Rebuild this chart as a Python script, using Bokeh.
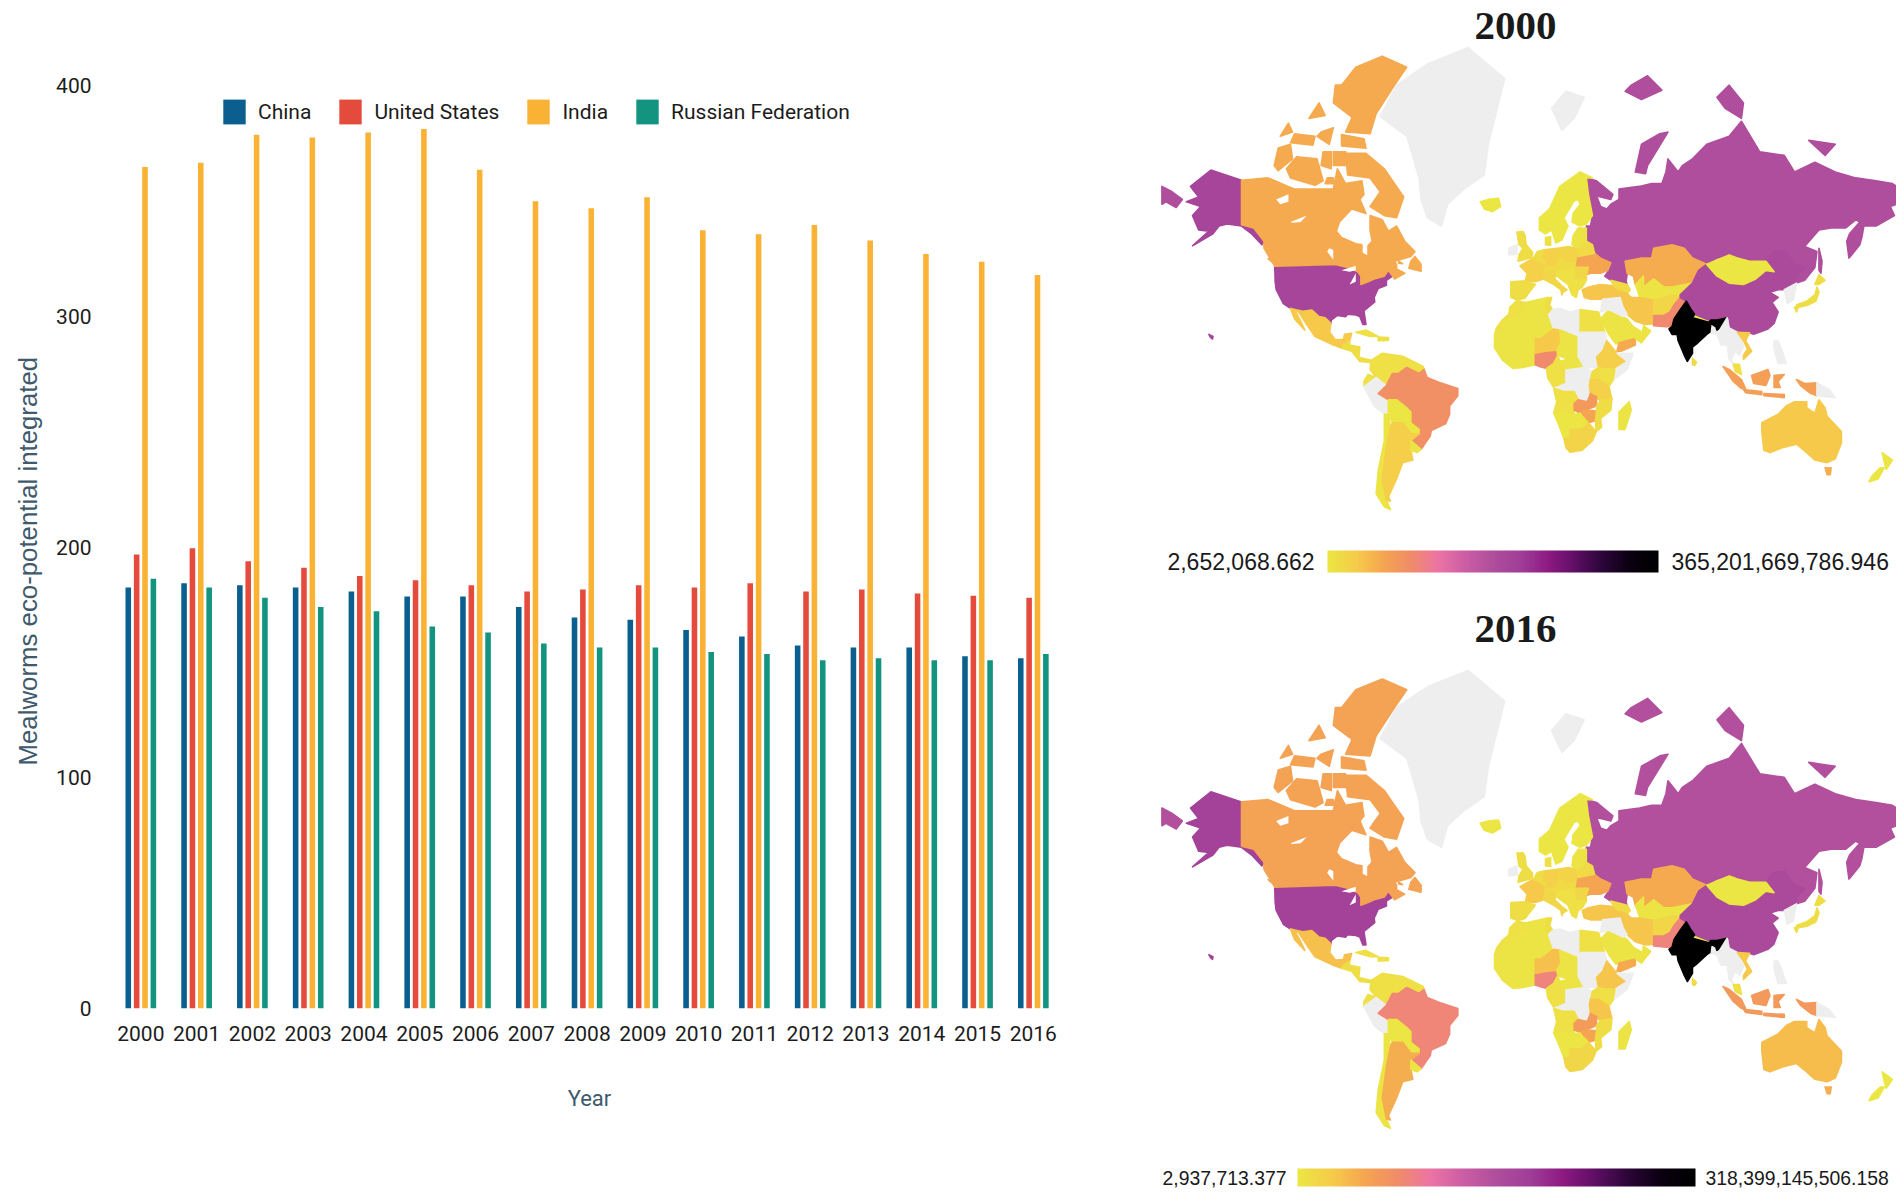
import numpy as np
from bokeh.embed import file_html
from bokeh.resources import INLINE
from bokeh.plotting import figure
from bokeh.layouts import row, column
from bokeh.models import (ColumnDataSource, Range1d, FixedTicker, Label, LinearColorMapper,
                          ColorBar, Title)
from bokeh.transform import dodge

YEARS = list(range(2000, 2017))
CHINA = [182.5, 184.3, 183.4, 182.5, 180.7, 178.6, 178.6, 174, 169.4, 168.5, 164, 161.2, 157.3, 156.4, 156.4, 152.7, 151.8]
US = [196.8, 199.5, 193.8, 191, 187.4, 185.6, 183.4, 180.7, 181.6, 183.4, 182.5, 184.3, 180.7, 181.6, 179.8, 178.9, 178]
INDIA = [364.7, 366.5, 378.7, 377.5, 379.6, 381.1, 363.5, 349.8, 346.8, 351.6, 337.3, 335.5, 339.5, 332.8, 327, 323.6, 317.9]
RUSSIA = [186.2, 182.5, 178, 174, 172.2, 165.5, 163, 158.2, 156.4, 156.4, 154.5, 153.6, 150.9, 151.8, 150.9, 150.9, 153.6]
SERIES = [("China", CHINA, "#0B5F8F"), ("United States", US, "#E54B3C"),
          ("India", INDIA, "#F9B234"), ("Russian Federation", RUSSIA, "#129480")]

PALETTE_STOPS = ["#EBE643", "#F6CC4A", "#F5A650", "#F08C68", "#EC74A5", "#CC5EA4", "#AF4E9C",
                 "#A03E98", "#8E1A82", "#5E0E64", "#2A0537", "#0A0010", "#000000"]

# country outlines: lon, lat rings
SHAPES = {
 "Russia": [[(28,70),(33,69.5),(41,67),(40,66),(35,66.5),(33,66.7),(35,64.5),(38,64),(40,65),(44,66),(44,68),(54,68.5),(60,69),(65,69),(67,71),(68,73),(73,71),(75,72),(80,73),(87,75),(98,76),(104,77.7),(113,74),(125,73.5),(130,71),(140,72.5),(150,71),(160,70),(170,69.5),(178,69),(180,68.5),(180,65),(177,64.5),(179,62.5),(170,60),(164,60),(163,57),(162,55),(158,52),(156.7,51),(155.6,56),(157,58),(162,61),(160,61.5),(155,59.5),(148,59.5),(142,59),(135,54.5),(141,53),(140,48),(135,43.5),(131,42.5),(131,45),(135,48),(130,49),(127,50),(125,53.5),(120,53),(116,50),(108,50),(102,51),(98,52),(92,51),(87,49),(80,51),(76,54),(70,55),(61,54),(60,51),(55,51),(47,50),(48,46),(47.5,43),(48,42),(40,43.5),(37,45),(39,47),(40,49.5),(35,51),(32,52.5),(31,55),(28,56),(28,60),(30,60),(31,62.5),(29,67)],
            [(52,71),(57,70.7),(58,72),(68,76.5),(64,76.3),(55,75)],
            [(96,79),(104,78),(105,79.5),(98,81),(92,80)],
            [(47,80.5),(55,79.8),(65,80.6),(58,81.7),(50,81)],
            [(137,75.5),(150,75),(145,73.5)],
            [(142,54),(143.5,50),(143,46),(142,47),(142,52)],
            [(-180,68.5),(-175,67.5),(-170,66),(-173,64.3),(-178,65.5),(-180,65)]],
 "USA": [[(-124.7,48.4),(-95,49),(-89,48),(-84,46.5),(-82.5,45),(-82.5,42),(-79,43),(-76,44),(-71,45),(-69,47),(-67,45),(-70,43.5),(-70,41.7),(-74,40.5),(-76,37),(-75.7,35.2),(-81,31.5),(-80,25.5),(-81.5,25.5),(-83,29),(-85,29.7),(-89,30),(-90,29),(-94,29.5),(-97,27.5),(-97.2,26),(-100,28.5),(-103,29),(-106.5,31.8),(-111,31.3),(-117,32.5),(-120.5,34.5),(-124,40),(-124.5,43)],
         [(-141,69.6),(-156,71.3),(-166,68.5),(-162,66.5),(-168,65.5),(-161,64.5),(-165,62.5),(-162,59),(-157,58.7),(-165,54.7),(-155,58),(-152,60),(-148,60.5),(-141,60),(-136,58),(-131,55),(-130,56),(-135,59.5),(-141,60.3)],
         [(-157,21),(-155,20),(-155.2,18.8),(-156.2,19.6)]],
 "Canada": [[(-141,69.6),(-128,70),(-115,68),(-108,68),(-96,68),(-94,71.5),(-90,69),(-82,69.5),(-81,67),(-85,65),(-87,64),(-93,61),(-94.5,58.7),(-92,57),(-85,55.3),(-82,55),(-82,52.5),(-79,51.5),(-79,54.7),(-77,56),(-78,59),(-78,62.5),(-72,61.5),(-69,58.7),(-65,60),(-61,56),(-56,53),(-58,51.5),(-66,50),(-65,49),(-65,47.5),(-61,46),(-66,44),(-67,45),(-69,47),(-71,45),(-76,44),(-79,43),(-82.5,42),(-82.5,45),(-84,46.5),(-89,48),(-95,49),(-124.7,48.4),(-130,54),(-130,56),(-135,59.5),(-141,60.3)],
            [(-61.5,66.5),(-65,62),(-71,62.5),(-78,64.5),(-73,67.5),(-78,70),(-89,70.5),(-90,73.8),(-80,73.8),(-71,71.5),(-67,69.5)],
            [(-117,70),(-105,68.7),(-101,69.5),(-104,73),(-114,73.3),(-119,71.5)],
            [(-125,72),(-123,71.2),(-116,73),(-117,75),(-123,74.5)],
            [(-90,76.5),(-78,76.3),(-75,78.5),(-66,81),(-60,82.3),(-72,83),(-85,82.3),(-92,81),(-87,78)],
            [(-92,74.8),(-80,74.5),(-81,75.7),(-92,76.2)],
            [(-96,79.5),(-88,78.3),(-88,81),(-95,81)],
            [(-117,75.2),(-106,74.9),(-105,76),(-115,76.3)],
            [(-102,72),(-97,71.5),(-97,74),(-101,74)],
            [(-96,72),(-90,72),(-90,74),(-96,74)],
            [(-100,69),(-95,69),(-96,70),(-99,70)],
            [(-104,76),(-98,75),(-96,77),(-102,76.5)],
            [(-122,76),(-116,76.5),(-118,77.5)],
            [(-108,78),(-100,78.3),(-103,79.5)],
            [(-87,64),(-80,63),(-83,66),(-86,66)],
            [(-59,47.7),(-53,46.7),(-53,49),(-56,51.5),(-58,50)],
            [(-128,50.8),(-123.5,48.4),(-125,50)],
            [(-64,50),(-62,49.2),(-64,49.4)]],
 "Greenland": [[(-73,78.2),(-60,76),(-54,70),(-53,66),(-50,62),(-43,60),(-40,65),(-32,68),(-22,70.5),(-20,75),(-12,81.5),(-30,83.5),(-50,82.5),(-65,81)],
               [(11,79),(16,76.7),(22,78),(27,80),(18,80.5)]],
 "Iceland": [[(-24,65.5),(-22,64),(-18,63.4),(-14,64.5),(-15,66.2),(-20,66)]],
 "Norway": [[(5,59),(8,58),(11,59),(12.5,61),(14,65),(18,68.5),(25,69),(28,70),(31,70),(25,71),(15,68.5),(10,64),(5,62)]],
 "Sweden": [[(11,59),(13,55.5),(16,56.3),(19,60),(17,62),(22,65.7),(24,66),(20,69),(18,68.5),(14,65),(12.5,61)]],
 "Finland": [[(21,61),(25,60),(28,60.5),(31,62.5),(29,67),(28,70),(25,69),(20,69),(24,66),(25,65),(21.5,63)]],
 "Denmark": [[(8,55),(10.5,54.8),(10.5,57.3),(8,57)]],
 "UK": [[(-5.5,50),(1.3,51.2),(1.7,52.7),(-1.5,55),(-2,57.5),(-3,58.6),(-6,58.5),(-5,55),(-3,54),(-5,52)]],
 "Ireland": [[(-10,52),(-6,52.2),(-6,55),(-10,54)]],
 "France": [[(-4.5,48.5),(2,51),(8,49),(7,44),(3,43),(-1.8,43.3),(-1,46)]],
 "Spain": [[(-9,43),(-1.8,43.3),(3,42),(0,39),(-2,36.8),(-5.5,36),(-9,37)]],
 "Germany": [[(6,51),(7,53.5),(14,54),(15,51),(13,48),(8,48)]],
 "Poland": [[(14,54),(19,54.5),(23.5,54),(24,50.5),(19,49.4),(15,51)]],
 "Benelux": [[(2,51),(4,53),(7,53.5),(6,51),(8,49)]],
 "CentralEurope": [[(8,48),(13,48),(15,51),(19,49.4),(24,50.5),(23,48),(22,48),(13.5,46.5),(7.5,46)]],
 "Italy": [[(7,44),(7.5,46),(13.5,46.5),(12.5,44),(16,41.5),(18.5,40),(16.5,39),(16,38),(15.5,40),(12,42)]],
 "Ukraine": [[(24,51.5),(32,52.5),(35,51),(40,49.5),(38.5,47),(35,46),(33,46),(30,46),(28,45.5),(29,48),(23,48)]],
 "Belarus": [[(24,51.5),(23.5,54),(28,56),(31,55),(32,52.5)]],
 "Baltics": [[(21,55),(21.5,57.5),(24,59.5),(28,59.5),(28,56),(23.5,54)]],
 "Romania": [[(22,48),(29,48),(28,45.5),(28,43.5),(22.5,44)]],
 "Balkans": [[(13.5,46.5),(22,48),(22.5,44),(28,43.5),(26,41),(24,40),(23,37),(21,38),(19,42),(13.5,45)]],
 "Turkey": [[(26,40),(29,41),(35,42),(41.5,41.5),(44.5,39.5),(44.5,37),(36,36.3),(30,36.3),(27,37)]],
 "Caucasus": [[(41.5,41.5),(40,43.5),(48,42),(49.5,40),(48,38.5),(44.5,39.5)]],
 "Kazakhstan": [[(47,50),(55,51),(60,51),(61,54),(70,55),(76,54),(80,51),(87,49),(83,47),(80,42.5),(70,41),(66,41),(61,44),(56,41),(56,45),(52,42),(51,45),(48,46)]],
 "CentralAsia": [[(52,42),(56,45),(56,41),(61,44),(66,41),(70,41),(80,42.5),(74,38),(70,37),(66,37),(61,36),(54,37.5),(53,40)]],
 "Iran": [[(44.5,39.5),(48,38.5),(50,37),(54,37),(61,36),(61,31),(63,26),(57,25.5),(52,27),(48,30),(46,33),(44.5,37)]],
 "Afghanistan": [[(61,36),(66,37),(71,38),(74,37),(71,34),(69,31),(66,29.5),(61,29.5),(61,31)]],
 "Pakistan": [[(61,29.5),(66,29.5),(69,31),(71,34),(74,37),(77,35.5),(74,32),(71,28),(70,24.5),(67,24.5),(61,25)]],
 "Nepal": [[(80,28.5),(81,30),(88,27.5),(88,26.5)]],
 "Bangladesh": [[(88.5,22),(89,26),(92,25),(92,21)]],
 "China": [[(74,37),(74,38),(80,42.5),(83,47),(87,49),(92,45),(98,42.5),(105,42),(111,44),(116,47),(120,46.5),(116,50),(120,53),(125,53.5),(130,49),(135,48),(131,45),(131,42.5),(125,40),(122,40),(118,39),(122,37),(119,35),(122,31),(120,26),(117,23.5),(110,21),(108,21.7),(102,22),(98,24),(98,28),(97,28.5),(92,27.5),(88,27.5),(81,30),(79,32.5),(77,35.5)]],
 "India": [[(77,35.5),(79,32.5),(81,30),(80,28.5),(88,26.5),(89,27.5),(92,27.5),(97,28.5),(94,24),(92,23),(91.5,24.5),(89,26),(88.5,22),(87,21),(82,16.5),(80,15),(80,12),(77.5,8),(76,11),(73,18),(72.5,21),(70,21),(68.5,23.5),(70,24.5),(71,28),(74,32)]],
 "Mongolia": [[(87,49),(98,52),(102,51),(108,50),(116,50),(120,46.5),(116,47),(111,44),(105,42),(98,42.5),(92,45)]],
 "Korea": [[(125,40),(131,42.5),(129.5,36),(126.5,34.5)]],
 "Japan": [[(131,34),(136,35.5),(140,38),(141,41),(142,39),(140.5,35.5),(136,33.7),(132,33)],
           [(140,42),(142,45.5),(145,43.5),(142,42)], [(130,33),(132,33.5),(131,31)]],
 "Indochina": [[(92,21),(94,24),(97,28.5),(98,24),(102,22),(104,19),(105,15),(103,11),(101,13),(99,9),(100,7),(98,9),(97,16),(94,16)]],
 "Vietnam": [[(102,22),(108,21.7),(106,18),(109,13),(105,9),(105,11),(107,14),(105,18)]],
 "Malaysia": [[(100,6.5),(103,6.5),(104,1.5),(101,3)]],
 "Philippines": [[(120,18),(122,18),(124,13),(126,7),(122,7),(120,14)]],
 "Indonesia": [[(95,5.5),(98,4),(104,-1),(106,-5.5),(104,-5.5),(100,-2)],
               [(105,-6),(114,-7),(114,-8.5),(106,-7.5)], [(109,1),(117,4),(118,1),(116,-4),(110,-3)],
               [(120,1),(125,1.5),(122,-2),(123,-5),(120,-5)], [(131,-1),(135,-3),(141,-2.6),(141,-9),(138,-8),(133,-4)],
               [(115,-8),(125,-8.5),(125,-10),(115,-9)]],
 "PNG": [[(141,-2.6),(147,-6),(150,-10),(141,-9)]],
 "SriLanka": [[(80,9.5),(82,7.5),(81,6),(80,6.5)]],
 "Australia": [[(114,-22),(122,-18),(126,-14),(130,-12),(136,-12),(136,-15),(140,-17.5),(142,-11),(145,-15),(146,-19),(153,-26),(153,-31),(150,-37.5),(146,-39),(140,-38),(136,-35),(131,-31.5),(124,-33),(118,-35),(115,-34),(114,-26)]],
 "Tasmania": [[(145,-41),(148,-41),(147.5,-43.5),(146,-43.5)]],
 "NewZealand": [[(166.5,-46),(171,-45),(174,-41),(172,-41),(168,-44)], [(173,-35),(178,-38),(175,-41.5),(174,-39)]],
 "Madagascar": [[(49,-12),(50,-16),(47,-25),(44,-25),(44,-17)]],
 "Morocco": [[(-6,35.8),(-2,35),(-1.2,32),(-8.7,27.7),(-13,25),(-13,21),(-17,21),(-16,24),(-13,27.7),(-10,30),(-9.5,33)]],
 "Algeria": [[(-2,35),(9,37),(8,33),(9.5,30),(12,23.5),(6,19),(3,19),(-4.8,25),(-8.7,27.7),(-1.2,32)]],
 "Tunisia": [[(9,37),(11,37),(10,34),(11.5,32),(9.5,30),(8,33)]],
 "Libya": [[(11.5,32),(15,32.5),(20,31),(25,32),(25,20),(24,19.5),(15,23),(12,23.5),(9.5,30)]],
 "Egypt": [[(25,32),(34,31),(35,28),(37,22),(25,22)]],
 "Saudi": [[(35,28),(39,32),(46,29),(48,28),(51,24.5),(55.5,22),(52,19),(44,17),(42.5,16.5),(39,21)]],
 "Yemen": [[(43,13),(44,17),(52,19),(52,16),(45,13)]],
 "Oman": [[(55.5,22),(56,25),(59.5,22.5),(55,17),(52,19)]],
 "Iraq": [[(36,36.3),(44.5,37),(46,33),(48,30),(46,29),(39,32),(35,31)]],
 "WestAfrica": [[(-17,21),(-13,21),(-13,25),(-8.7,27.7),(-4.8,25),(3,19),(3,6.3),(-3,5),(-8,4.5),(-13,8.5),(-17,14.5)]],
 "Nigeria": [[(3,6.3),(3,12),(8,13),(13.5,13.5),(14,11),(12,7),(8.5,4.5),(5,5.5)]],
 "Niger": [[(3,12),(3,19),(6,19),(12,23.5),(15,23),(15.5,17),(13.5,13.5),(8,13)]],
 "Chad": [[(15,23),(24,19.5),(24,10.5),(19,9),(14,11),(13.5,13.5),(15.5,17)]],
 "Cameroon": [[(8.5,4.5),(12,7),(14,11),(15,8),(18,3.7),(18,-3),(12,-5),(9,0)]],
 "CAR": [[(15,8),(19,9),(24,10.5),(27,5),(18,3.7)]],
 "Sudan": [[(24,19.5),(25,22),(37,22),(38,18),(36,13),(33,10),(34,5),(27,5),(24,10.5)]],
 "Ethiopia": [[(36,13),(38,18),(43,12),(48,8),(42,4),(36,4.5),(34,5),(33,10)]],
 "Somalia": [[(43,12),(51,12),(48,4),(41,-1.5),(42,4),(48,8)]],
 "DRC": [[(18,3.7),(27,5),(31,3),(29.5,-4),(30,-8),(28.5,-12),(24,-11),(22,-7),(17,-7),(12,-5.5),(18,-3)]],
 "Kenya": [[(34,5),(36,4.5),(42,4),(41,-1.5),(39,-4.5),(34,-1)]],
 "Uganda": [[(31,3),(34,5),(34,-1),(30,-1)]],
 "Tanzania": [[(30,-1),(34,-1),(39,-4.5),(40.5,-10.5),(35,-11.5),(30,-8),(29.5,-4)]],
 "Angola": [[(12,-5.5),(17,-7),(22,-7),(24,-11),(22,-13),(22,-18),(12,-17.5),(13.5,-12)]],
 "Zambia": [[(22,-13),(24,-11),(28.5,-12),(30,-8),(33,-9.5),(33,-14),(28,-16),(25,-17.5),(22,-16)]],
 "Zimbabwe": [[(25,-17.5),(28,-16),(33,-16.5),(32.5,-21),(29,-22),(26,-19)]],
 "Mozambique": [[(33,-14),(35,-11.5),(40.5,-10.5),(40,-16),(35,-20),(35.5,-24),(32.8,-26),(32.5,-21),(33,-16.5)]],
 "Namibia": [[(12,-17.5),(22,-18),(25,-17.5),(26,-19),(29,-22),(26,-25),(20,-25),(20,-29),(17,-29),(14.5,-23)]],
 "SouthAfrica": [[(17,-29),(20,-29),(20,-25),(26,-25),(29,-22),(32.8,-26),(31,-30),(26,-34),(20,-34.8),(18,-33)]],
 "Mexico": [[(-117,32.5),(-111,31.3),(-106.5,31.8),(-103,29),(-100,28.5),(-97.2,26),(-97.8,22),(-95,18.5),(-91,18.7),(-90.5,21),(-87,21.5),(-88,18),(-91,16),(-92,14.5),(-96,16),(-105,20),(-109,25.5),(-113,31),(-114.7,31.5)],
            [(-117,32.5),(-115,28),(-110,23),(-112,27),(-114.7,31.5)]],
 "CentralAmerica": [[(-92,14.5),(-91,16),(-88,18),(-88,16),(-83,15),(-83.5,10),(-77.5,8.5),(-78,7.5),(-83,8),(-87,13)]],
 "Cuba": [[(-85,22),(-80,23),(-74,20),(-78,20)], [(-74,19.8),(-69,19.5),(-69,18.2),(-74,18)]],
 "Colombia": [[(-77.5,8.5),(-72,12),(-62,10.5),(-52,5.5),(-51.5,4),(-54,2),(-60,5),(-64,2),(-67,2),(-70,-4),(-75,0),(-79,1.5),(-81,-2),(-81,-4.5),(-79,-3),(-75,0),(-78,4)]],
 "Peru": [[(-81,-4.5),(-79,-3),(-75,0),(-70,-4),(-74,-8),(-69,-11),(-69,-17),(-71,-18),(-76,-14)]],
 "Brazil": [[(-74,-8),(-70,-4),(-67,2),(-64,2),(-60,5),(-54,2),(-51.5,4),(-50,0),(-44,-2.5),(-35,-5.5),(-35,-9),(-39,-14),(-39,-18),(-41,-22.5),(-48,-25.5),(-48.5,-28),(-53,-33.7),(-57.5,-30),(-54,-26),(-54,-25),(-58,-22),(-58,-17),(-60,-15),(-65,-11),(-69,-11)]],
 "Bolivia": [[(-69,-11),(-65,-11),(-60,-15),(-58,-17),(-58,-22),(-54,-25),(-54,-27),(-58,-27),(-62,-22),(-67,-22),(-69,-18)]],
 "Chile": [[(-69,-18),(-71,-18),(-71,-30),(-74,-42),(-75,-50),(-71,-54),(-68,-54.8),(-70,-52),(-72,-45),(-70,-33),(-68,-24)]],
 "Argentina": [[(-67,-22),(-62,-22),(-58,-27),(-54,-27),(-58,-30),(-58,-34),(-57,-38),(-62,-39),(-65,-45),(-69,-51),(-68,-52.3),(-70,-52),(-72,-45),(-70,-33),(-68,-24)]],
 "Uruguay": [[(-58,-30),(-53,-33.7),(-55,-35),(-58,-34)]],
}
LAKES = [[(-124,66),(-118,67),(-118,65.5),(-122,65)], [(-117,61),(-109,62.5),(-112,61),(-116,60.8)],
         [(-99,53),(-96,50.5),(-96,53.5),(-98,54)], [(-92,47),(-85,48.5),(-85,47),(-88,46.5)],
         [(-88,42),(-85,46),(-85,43)]]

NAN = float("nan")
# position of each country on the colour scale (0 = low, 1 = high), nan = no data
LEVEL_2000 = {"Russia":.5,"USA":.55,"Canada":.16,"Greenland":NAN,"Iceland":.0,"Norway":.0,"Sweden":.0,"Finland":.0,
 "Denmark":.02,"UK":.03,"Ireland":NAN,"France":.07,"Spain":.03,"Germany":.07,"Poland":.06,"Benelux":.03,"CentralEurope":.04,"Italy":.05,
 "Ukraine":.17,"Belarus":.04,"Baltics":.01,"Romania":.05,"Balkans":.02,"Turkey":.1,"Caucasus":.04,"Kazakhstan":.155,"CentralAsia":.01,
 "Iran":.1,"Afghanistan":.05,"Pakistan":.26,"India":1.0,"Nepal":.01,"Bangladesh":NAN,"China":.52,"Mongolia":.0,"Korea":NAN,"Japan":.03,
 "Indochina":NAN,"Vietnam":.09,"Malaysia":.02,"Philippines":NAN,"Indonesia":.19,"PNG":NAN,"SriLanka":.04,"Australia":.09,"Tasmania":.15,
 "NewZealand":.0,"Madagascar":.01,"Morocco":.02,"Algeria":.01,"Tunisia":.03,"Libya":NAN,"Egypt":.02,"Saudi":.01,"Yemen":.16,"Oman":.01,
 "Iraq":NAN,"WestAfrica":.01,"Nigeria":.26,"Niger":.09,"Chad":.01,"Cameroon":.02,"CAR":.01,"Sudan":NAN,"Ethiopia":.08,"Somalia":NAN,
 "DRC":NAN,"Kenya":.02,"Uganda":.03,"Tanzania":.07,"Angola":.02,"Zambia":.21,"Zimbabwe":.17,"Mozambique":.03,"Namibia":.0,"SouthAfrica":.06,
 "Mexico":.09,"CentralAmerica":.03,"Cuba":.02,"Colombia":.02,"Peru":NAN,"Brazil":.24,"Bolivia":.0,"Chile":.01,"Argentina":.08,"Uruguay":.01}
LEVEL_2016 = dict(LEVEL_2000)
LEVEL_2016.update({"Russia":.49,"USA":.56,"Canada":.18,"Brazil":.27,"Argentina":.15,"Australia":.12,"Pakistan":.28,"Nigeria":.28,
 "Indonesia":.21,"Kazakhstan":.16,"Niger":.11,"Ethiopia":.1,"Zambia":.2,"Tanzania":.1,"France":.09,"SouthAfrica":.05,"Mexico":.11})

MAPS = [
 dict(title="2000", low="2,652,068.662", high="365,201,669,786.946", level=LEVEL_2000),
 dict(title="2016", low="2,937,713.377", high="318,399,145,506.158", level=LEVEL_2016),
]

# -------- bars --------
p = figure(width=1140, height=1192, output_backend="svg", toolbar_location=None,
           x_range=Range1d(1999.277, 2016.81), y_range=Range1d(0, 400),
           min_border_left=100, min_border_right=62, min_border_top=85, min_border_bottom=184,
           outline_line_color=None, background_fill_color="white", border_fill_color="white")
src = ColumnDataSource(dict(year=YEARS, **{name: vals for name, vals, _ in SERIES}))
for i, (name, vals, col) in enumerate(SERIES):
    p.vbar(x=dodge("year", -0.225 + 0.15 * i), top=name, width=0.1, bottom=0, source=src,
           fill_color=col, line_color=None, legend_label=name)
p.grid.visible = False
for ax in (p.xaxis[0], p.yaxis[0]):
    ax.axis_line_color = None
    ax.major_tick_line_color = None
    ax.minor_tick_line_color = None
    ax.major_label_text_font = "Roboto"
    ax.major_label_text_font_size = "21px"
    ax.major_label_text_color = "#1c1c1c"
p.xaxis[0].ticker = FixedTicker(ticks=YEARS)
p.yaxis[0].ticker = FixedTicker(ticks=[0, 100, 200, 300, 400])
p.xaxis[0].major_label_standoff = 11
p.yaxis[0].major_label_standoff = 3
p.xaxis[0].axis_label = "Year"
p.xaxis[0].axis_label_text_font_style = "normal"
p.xaxis[0].axis_label_text_color = "#3e5a6c"
p.xaxis[0].axis_label_text_font = "Roboto"
p.xaxis[0].axis_label_text_font_size = "22px"
p.xaxis[0].axis_label_standoff = 42
# the y title sits a little below the middle of the frame, so it is a side title with an offset
p.add_layout(Title(text="Mealworms eco-potential integrated", align="left", offset=243, standoff=23,
                   text_font="Liberation Sans", text_font_size="25.8px", text_font_style="normal",
                   text_color="#3e5a6c"), "left")
lg = p.legend[0]
lg.orientation = "horizontal"
lg.location = (120, 881)
lg.glyph_width = 28
lg.glyph_height = 31
lg.label_standoff = 10
lg.spacing = 25
lg.padding = 0
lg.margin = 0
lg.border_line_color = None
lg.background_fill_alpha = 0
lg.label_text_font = "Roboto"
lg.label_text_font_size = "21px"
lg.label_text_color = "#1c1c1c"

# -------- maps --------
palette = []
stops = np.array([[int(c[i:i+2], 16) for i in (1, 3, 5)] for c in PALETTE_STOPS], float)
for t in np.linspace(0, len(stops) - 1, 256):
    k = min(int(t), len(stops) - 2)
    rgb = stops[k] + (stops[k + 1] - stops[k]) * (t - k)
    palette.append("#%02x%02x%02x" % tuple(int(round(v)) for v in rgb))
mapper = LinearColorMapper(palette=palette, low=0, high=1, nan_color="#EEEEEE")


def mercator(lat):
    return np.log(np.tan(np.pi / 4 + np.radians(np.asarray(lat, float)) / 2))


def make_map(info, height, y0, y1, bar, low_x, high_x, label_y, fs, title_y):
    m = figure(width=756, height=height, output_backend="svg", toolbar_location=None,
               x_range=Range1d(-190.5, 180), y_range=Range1d(y0, y1),
               min_border=0, min_border_left=0, min_border_right=0, min_border_top=0, min_border_bottom=0,
               outline_line_color=None, x_axis_location=None, y_axis_location=None,
               background_fill_color="white", border_fill_color="white")
    m.grid.visible = False
    xs, ys, level = [], [], []
    for name, rings in SHAPES.items():
        for ring in rings:
            xs.append([pt[0] for pt in ring])
            ys.append(mercator([pt[1] for pt in ring]).tolist())
            level.append(info["level"][name])
    m.patches(xs="xs", ys="ys", source=ColumnDataSource(dict(xs=xs, ys=ys, level=level)),
              fill_color={"field": "level", "transform": mapper},
              line_color={"field": "level", "transform": mapper}, line_width=1.6, line_join="round")
    m.patches(xs=[[pt[0] for pt in r] for r in LAKES],
              ys=[mercator([pt[1] for pt in r]).tolist() for r in LAKES],
              fill_color="white", line_color=None)
    m.add_layout(Label(x=375, y=title_y, x_units="screen", y_units="screen", text=info["title"],
                       text_font="Liberation Serif", text_font_style="bold", text_font_size="41px",
                       text_color="#1a1a1a", text_align="center", text_baseline="middle"))
    cb = ColorBar(color_mapper=mapper, orientation="horizontal", location=(bar[0], bar[1]),
                  width=bar[2], height=bar[3], padding=0, margin=0,
                  ticker=FixedTicker(ticks=[]), major_tick_line_color=None, minor_tick_line_color=None,
                  bar_line_color=None, border_line_color=None, background_fill_alpha=0,
                  major_label_text_font_size="0px")
    m.add_layout(cb, "center")
    for txt, x, al in ((info["low"], low_x, "right"), (info["high"], high_x, "left")):
        m.add_layout(Label(x=x, y=label_y, x_units="screen", y_units="screen", text=txt,
                           text_font="Liberation Sans", text_font_size=fs, text_color="#1a1a1a",
                           text_align=al, text_baseline="middle"))
    return m


m1 = make_map(MAPS[0], 600, -1.939, 3.278, (187, 28, 331, 22), 174, 531, 39, "23px", 575)
m2 = make_map(MAPS[1], 592, -1.711, 3.482, (157, 6, 398, 18), 146, 565, 15, "19.4px", 564)

layout = row(p, column(m1, m2, spacing=0), spacing=0)
open("out.html", "w").write(file_html(layout, INLINE))
